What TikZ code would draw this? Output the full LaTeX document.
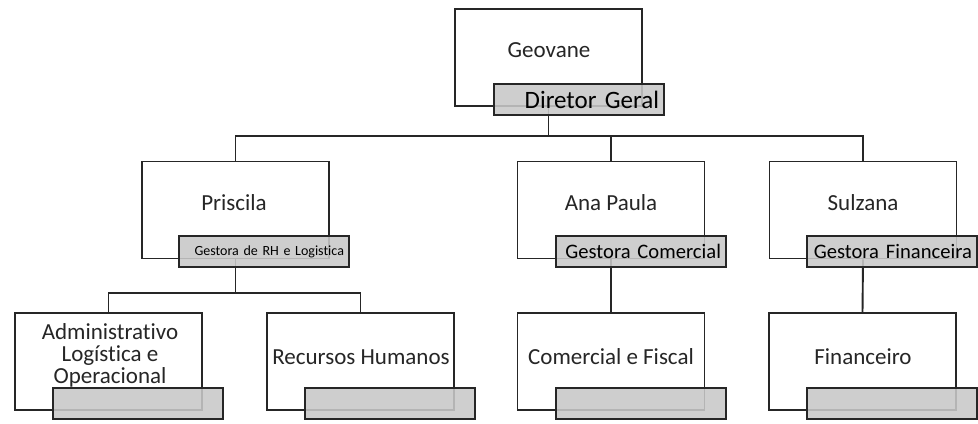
\documentclass[tikz,border=0pt]{standalone}
\usepackage{fontspec}
\setmainfont{Carlito}[Ligatures={TeX,NoCommon}]
\definecolor{inkgray}{HTML}{262626}
\definecolor{rolegray}{HTML}{C8C8C8}

\begin{document}
\begin{tikzpicture}[x=0.5pt, y=-0.5pt,
    unit/.style={draw=inkgray, line width=0.95pt, fill=white, minimum width=93.5pt, minimum height=48.5pt, inner sep=0pt},
    role/.style={draw=inkgray, line width=0.95pt, fill=rolegray, fill opacity=0.88, text opacity=1, anchor=south west, minimum height=15.5pt, text width=80pt, align=right, inner xsep=2.5pt, inner ysep=0pt},
    who/.style={text=inkgray, font=\fontsize{11.5}{11}\selectfont, align=center},
    link/.style={draw=inkgray, line width=0.95pt}]
\useasboundingbox (0,0) rectangle (978,423);

% Boxes
\node[unit] (geo) at (548.5,57.5) {};
\node[unit] (pri) at (235.5,210) {};
\node[unit] (ana) at (611,210) {};
\node[unit] (sul) at (863,210) {};
\node[unit] (adm) at (108.5,361.5) {};
\node[unit] (rh) at (360.5,361.5) {};
\node[unit] (com) at (611,361.5) {};
\node[unit] (fin) at (862.5,361.5) {};

% Names
\node[who] (geoname) at (549,50) {Geovane};
\node[who] (priname) at (234,203) {Priscila};
\node[who] (ananame) at (611,203) {Ana Paula};
\node[who] (sulname) at (863,203) {Sulzana};
\node[who] (admname) at (110,355) {Administrativo\\Logística e\\Operacional};
\node[who] (rhname) at (361,357) {Recursos Humanos};
\node[who] (comname) at (611,357) {Comercial e Fiscal};
\node[who] (finname) at (863,357) {Financeiro};

% Connectors
\coordinate (bustop) at (548.5,136);
\coordinate (buspri) at (235.5,293);
\draw[link] (geo.south) -- (bustop);
\draw[link] (pri.north) |- (bustop);
\draw[link] (ana.north) |- (bustop);
\draw[link] (sul.north) |- (bustop);
\draw[link] (pri.south) -- (buspri);
\draw[link] (adm.north) |- (buspri);
\draw[link] (rh.north) |- (buspri);
\draw[link] (ana.south) -- (com.north);
\draw[link] (sul.south) -- (fin.north);

% Roles
\node[role, font=\fontsize{12.5}{14}\selectfont] (georole) at (493,116) {Diretor Geral};
\node[role, font=\fontsize{7}{8}\selectfont] (prirole) at (178,268) {Gestora de RH e Logistica};
\node[role, font=\fontsize{10.3}{12}\selectfont] (anarole) at (555,268) {Gestora Comercial};
\node[role, font=\fontsize{10.3}{12}\selectfont] (sulrole) at (806,268) {Gestora Financeira};
\node[role] (admrole) at (52,420) {};
\node[role] (rhrole) at (304,420) {};
\node[role] (comrole) at (555,420) {};
\node[role] (finrole) at (806,420) {};

\end{tikzpicture}
\end{document}
